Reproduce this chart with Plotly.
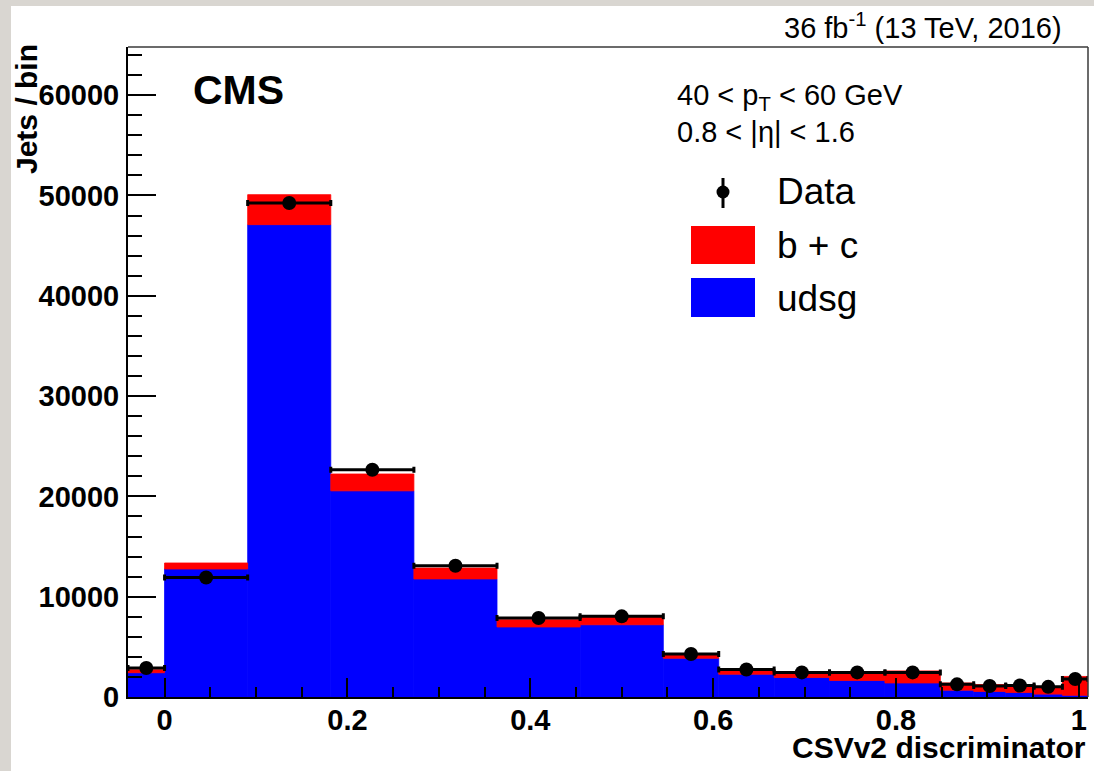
import numpy as np
import plotly.graph_objects as go

# ---------------- data ----------------
bin_edges = [-0.04, 0.0, 0.0909, 0.1818, 0.2727, 0.3636, 0.4545, 0.5455,
             0.6061, 0.6667, 0.7273, 0.7879, 0.8485, 0.885, 0.92, 0.951,
             0.982, 1.01]
udsg = [2420, 12760, 47090, 20550, 11770, 6980, 7200, 3860, 2270, 1950,
        1650, 1400, 680, 560, 450, 290, 170]
b_plus_c = [300, 600, 2990, 1680, 1090, 730, 800, 390, 500, 540,
            700, 1200, 720, 680, 770, 760, 1880]
data_counts = [2890, 11920, 49250, 22660, 13090, 7880, 8040, 4290, 2740,
               2450, 2450, 2450, 1260, 1100, 1140, 1010, 1800]

x_tick_vals = [0, 0.2, 0.4, 0.6, 0.8, 1.0]
x_tick_text = ["0", "0.2", "0.4", "0.6", "0.8", "1"]
y_tick_vals = [0, 10000, 20000, 30000, 40000, 50000, 60000]
y_tick_text = ["0", "10000", "20000", "30000", "40000", "50000", "60000"]

# ---------------- layout constants ----------------
W, H = 1094, 771
ML, MR, MT, MB = 128, 6, 47, 74
PW, PH = W - ML - MR, H - MT - MB
FONT = "Liberation Sans, Arial, Helvetica, sans-serif"


def px(x):
    return (x - ML) / PW


def py(y):
    return (H - MB - y) / PH


edges = np.array(bin_edges)
centers = (edges[:-1] + edges[1:]) / 2
widths = np.diff(edges)

fig = go.Figure()
fig.add_bar(x=centers, y=udsg, width=widths, base=0, name="udsg",
            marker=dict(color="#0000ff", line=dict(width=0.8, color="#0000ff")),
            showlegend=False)
fig.add_bar(x=centers, y=b_plus_c, width=widths, base=udsg, name="b + c",
            marker=dict(color="#ff0000", line=dict(width=0.8, color="#ff0000")),
            showlegend=False)
fig.add_scatter(x=centers, y=data_counts, mode="markers", name="Data",
                marker=dict(color="black", size=14),
                error_x=dict(type="data", array=widths / 2, color="black",
                             thickness=3, width=3),
                showlegend=False)

tickfont = dict(family=FONT, size=29, color="black", weight="bold")

fig.update_xaxes(range=[bin_edges[0], bin_edges[-1]], tickmode="array",
                 tickvals=x_tick_vals, ticktext=x_tick_text,
                 ticks="inside", ticklen=19, tickwidth=2, tickcolor="black",
                 showline=True, linecolor="black", linewidth=2,
                 showgrid=False, zeroline=False, tickfont=tickfont,
                 ticklabelstandoff=-4,
                 minor=dict(tickmode="linear", tick0=0, dtick=0.05,
                            ticks="inside", ticklen=10, tickwidth=2,
                            tickcolor="black", showgrid=False))
fig.update_yaxes(range=[0, 64800], tickmode="array",
                 tickvals=y_tick_vals, ticktext=y_tick_text,
                 ticks="inside", ticklen=28, tickwidth=2, tickcolor="black",
                 showline=True, linecolor="black", linewidth=2,
                 showgrid=False, zeroline=False, tickfont=tickfont,
                 ticklabelstandoff=1,
                 minor=dict(tickmode="linear", tick0=0, dtick=2000,
                            ticks="inside", ticklen=14, tickwidth=2,
                            tickcolor="black", showgrid=False))

shapes = [
    # white page over the textured background
    dict(type="rect", xref="paper", yref="paper", layer="below",
         x0=px(11), x1=px(W + 20), y0=py(H + 20), y1=py(6),
         fillcolor="white", line=dict(width=0)),
    # top and right frame lines
    dict(type="line", xref="paper", yref="paper", x0=0, x1=1, y0=1, y1=1,
         line=dict(color="#3a3a3a", width=1.5)),
    dict(type="line", xref="paper", yref="paper", x0=1, x1=1, y0=0, y1=1,
         line=dict(color="#3a3a3a", width=1.5)),
    # legend: Data marker
    dict(type="line", xref="paper", yref="paper", x0=px(723), x1=px(723),
         y0=py(208), y1=py(178), line=dict(color="black", width=3)),
    dict(type="circle", xref="paper", yref="paper",
         x0=px(723 - 6.5), x1=px(723 + 6.5), y0=py(192 + 6.5), y1=py(192 - 6.5),
         fillcolor="black", line=dict(color="black", width=0)),
    # legend: b + c box
    dict(type="rect", xref="paper", yref="paper", x0=px(691), x1=px(755),
         y0=py(264), y1=py(226), fillcolor="#ff0000", line=dict(width=0)),
    # legend: udsg box
    dict(type="rect", xref="paper", yref="paper", x0=px(691), x1=px(755),
         y0=py(317), y1=py(278), fillcolor="#0000ff", line=dict(width=0)),
]


def ann(text, x, y, size, xanchor="left", yanchor="middle", bold=False,
        angle=0):
    return dict(text=text, x=px(x), y=py(y), xref="paper", yref="paper",
                xanchor=xanchor, yanchor=yanchor, showarrow=False,
                textangle=angle, borderpad=0,
                font=dict(family=FONT, size=size, color="black",
                          weight="bold" if bold else "normal"))


annotations = [
    ann("CMS", 192, 90, 41, bold=True),
    ann("36 fb<sup>-1</sup> (13 TeV, 2016)", 1063, 26, 29, xanchor="right"),
    ann("40 &lt; p<sub>T</sub> &lt; 60 GeV", 676, 97, 29),
    ann("0.8 &lt; |η| &lt; 1.6", 676, 132, 29),
    ann("Data", 776, 191, 37),
    ann("b + c", 776, 245, 37),
    ann("udsg", 776, 298, 37),
    ann("Jets / bin", 26, 109, 30, xanchor="center", bold=True, angle=-90),
    ann("CSVv2 discriminator", 1087, 747, 30, xanchor="right", bold=True),
]

fig.update_layout(
    width=W, height=H, autosize=False,
    margin=dict(l=ML, r=MR, t=MT, b=MB, pad=0),
    paper_bgcolor="#d9d6d1", plot_bgcolor="white",
    barmode="overlay", showlegend=False,
    shapes=shapes, annotations=annotations,
    font=dict(family=FONT, color="black"),
)

fig.write_html("out.html",
               config={"displayModeBar": False},
               post_script="document.body.style.margin='0px';"
                           "document.body.style.overflow='hidden';")
